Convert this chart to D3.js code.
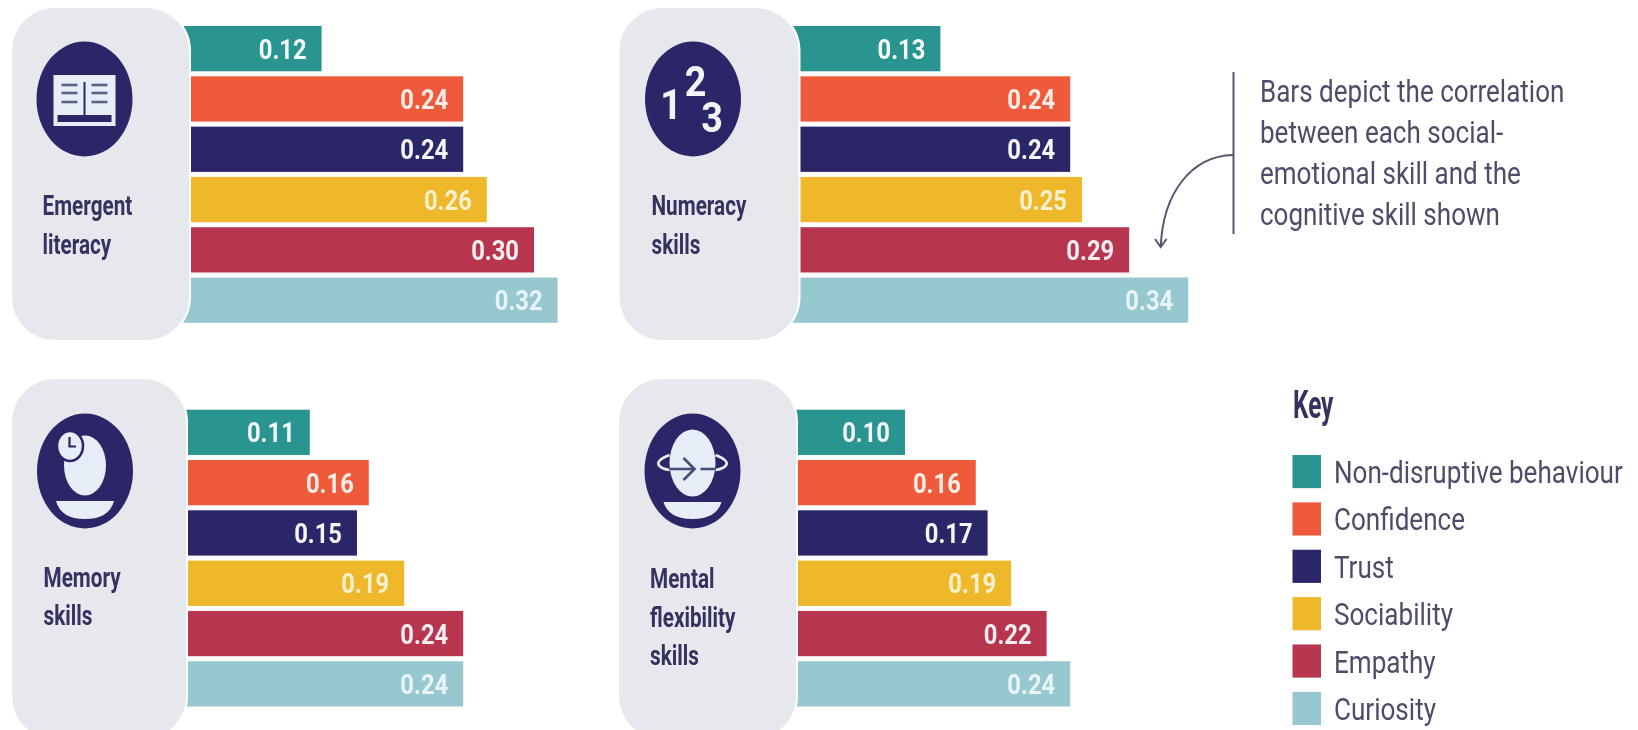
<!DOCTYPE html>
<html lang="en">
<head>
    <meta charset="UTF-8">
    <title>Social-emotional and cognitive skill correlations</title>
    <script src="https://d3js.org/d3.v7.min.js"></script>
    <style>
        html, body { margin: 0; padding: 0; background: #fff; }
        svg { display: block; font-family: Roboto, sans-serif; }
        .value { font-weight: 700; font-size: 28px; text-anchor: end; }
        .card-label { font-weight: 700; font-size: 28px; fill: #34325f; }
        .note { font-size: 31px; fill: #4d4d6b; }
        .key-label { font-size: 30.5px; fill: #4d4d6b; }
        .key-title { font-weight: 700; font-size: 38px; fill: #34325f; }
    </style>
</head>
<body>
    <svg id="chart"></svg>

    <script>
        // Chart values
        const traits = ["Non-disruptive behaviour", "Confidence", "Trust", "Sociability", "Empathy", "Curiosity"];
        const emergentLiteracy = [0.12, 0.24, 0.24, 0.26, 0.30, 0.32];
        const numeracySkills = [0.13, 0.24, 0.24, 0.25, 0.29, 0.34];
        const memorySkills = [0.11, 0.16, 0.15, 0.19, 0.24, 0.24];
        const mentalFlexibility = [0.10, 0.16, 0.17, 0.19, 0.22, 0.24];
        const noteLines = ["Bars depict the correlation", "between each social-", "emotional skill and the", "cognitive skill shown"];

        const palette = ["#2a9490", "#ef5a3a", "#2b2768", "#efb82c", "#b83650", "#97c8cf"];
        const labelFill = ["#f4fbfa", "#fdeee8", "#f6f6fb", "#fbf1cf", "#fbeef0", "#e8f4f5"];

        // Layout of the four panels
        const panels = [
            { name: ["Emergent", "literacy"], values: emergentLiteracy, icon: "book", x0: 180, top: 26, cardX: 11, cardR: 190, cardY: 7, cardB: 341, cx: 84.5, cy: 99, labelX: 42.5, labelY: [215, 254], sx: 0.74 },
            { name: ["Numeracy", "skills"], values: numeracySkills, icon: "numbers", x0: 787, top: 26, cardX: 618.5, cardR: 799.5, cardY: 7, cardB: 341, cx: 693, cy: 99, labelX: 651.5, labelY: [215, 254], sx: 0.74 },
            { name: ["Memory", "skills"], values: memorySkills, icon: "memory", x0: 180, top: 409.7, cardX: 11, cardR: 187, cardY: 378, cardB: 740, cx: 85, cy: 471, labelX: 43.5, labelY: [587, 625], sx: 0.74 },
            { name: ["Mental", "flexibility", "skills"], values: mentalFlexibility, icon: "flex", x0: 787, top: 409.7, cardX: 618, cardR: 797, cardY: 378, cardB: 740, cx: 692.5, cy: 471, labelX: 650, labelY: [588, 627, 665], sx: 0.74 }
        ];

        const svg = d3.select("#chart").attr("width", 1638).attr("height", 730);

        // The source picture is soft, a light blur keeps the edges comparable
        svg.append("defs").append("filter").attr("id", "soft")
            .append("feGaussianBlur").attr("stdDeviation", 0.65);
        const root = svg.append("g").attr("filter", "url(#soft)");

        const xScale = d3.scaleLinear().domain([0, 1]).range([0, 1180]);
        const color = d3.scaleOrdinal().domain(traits).range(palette);
        const textColor = d3.scaleOrdinal().domain(traits).range(labelFill);

        const navy = "#2b2768";
        const pale = "#e6edf6";

        // Condensed text: no condensed face is installed, so squeeze horizontally
        function squeezed(sel, x, y, sx) {
            return sel.attr("transform", `translate(${x},${y}) scale(${sx},1)`);
        }

        panels.forEach(p => {
            const yScale = d3.scaleBand().domain(traits).range([p.top, p.top + 296.8]).paddingInner(0.1);
            const g = root.append("g");

            // Bars start behind the card
            g.selectAll("rect.bar").data(p.values).enter().append("rect")
                .attr("class", "bar")
                .attr("x", p.x0)
                .attr("y", (d, i) => yScale(traits[i]))
                .attr("width", d => xScale(d))
                .attr("height", yScale.bandwidth())
                .attr("fill", (d, i) => color(traits[i]));

            g.selectAll("text.value").data(p.values).enter().append("text")
                .attr("class", "value")
                .attr("fill", (d, i) => textColor(traits[i]))
                .attr("transform", (d, i) => `translate(${p.x0 + xScale(d) - 15},${yScale(traits[i]) + yScale.bandwidth() / 2 + 10}) scale(0.85,1)`)
                .text(d => d3.format(".2f")(d));

            g.append("rect")
                .attr("x", p.cardX).attr("y", p.cardY)
                .attr("width", p.cardR - p.cardX).attr("height", p.cardB - p.cardY)
                .attr("rx", 44).attr("ry", 44)
                .attr("fill", "#e6e8ee")
                .attr("stroke", "#fff").attr("stroke-width", 2);

            const ic = g.append("g").attr("transform", `translate(${p.cx},${p.cy})`);
            ic.append("ellipse").attr("rx", 48).attr("ry", 57.5).attr("fill", navy);
            drawIcon(ic, p.icon);

            p.name.forEach((line, i) => {
                squeezed(g.append("text").attr("class", "card-label"), p.labelX, p.labelY[i], p.sx).text(line);
            });
        });

        function drawIcon(ic, kind) {
            if (kind === "book") {
                ic.append("rect").attr("x", -31).attr("y", -24).attr("width", 62).attr("height", 51).attr("fill", pale);
                ic.append("rect").attr("x", -27).attr("y", 16).attr("width", 54).attr("height", 7).attr("fill", navy);
                ic.append("line").attr("x1", 0).attr("x2", 0).attr("y1", -17).attr("y2", 16).attr("stroke", navy).attr("stroke-width", 2);
                [-14, -6, 3].forEach(y => {
                    [[-23, -7], [7, 23]].forEach(s => {
                        ic.append("line").attr("x1", s[0]).attr("x2", s[1]).attr("y1", y).attr("y2", y)
                            .attr("stroke", "#5f6088").attr("stroke-width", 2.6);
                    });
                });
            } else if (kind === "numbers") {
                [["1", -22, 20], ["2", 2.5, -3], ["3", 19, 33]].forEach(n => {
                    ic.append("text")
                        .attr("transform", `translate(${n[1]},${n[2]}) scale(0.9,1)`)
                        .attr("text-anchor", "middle")
                        .attr("font-weight", 700).attr("font-size", 42)
                        .attr("fill", "#f3f4fa").text(n[0]);
                });
            } else if (kind === "memory") {
                ic.append("ellipse").attr("cy", -5.5).attr("rx", 21).attr("ry", 30).attr("fill", pale);
                ic.append("path").attr("d", "M-29,30 H29 Q24,48 0,48 Q-24,48 -29,30 Z").attr("fill", pale);
                ic.append("ellipse").attr("cx", -15).attr("cy", -25).attr("rx", 13).attr("ry", 15)
                    .attr("fill", pale).attr("stroke", navy).attr("stroke-width", 2.5);
                ic.append("path").attr("d", "M-15.5,-34 V-24.5 H-9").attr("fill", "none").attr("stroke", navy).attr("stroke-width", 2.2);
            } else {
                ic.append("ellipse").attr("cy", -8).attr("rx", 23).attr("ry", 33.5).attr("fill", pale);
                ic.append("path").attr("d", "M-29,31 H29 Q24,48 0,48 Q-24,48 -29,31 Z").attr("fill", pale);
                ic.append("path").attr("d", "M-23,-16 Q-38,-10 -33,-5 Q-30,-2 -23,-1 M23,-16 Q38,-10 33,-5 Q30,-2 23,-1")
                    .attr("fill", "none").attr("stroke", pale).attr("stroke-width", 2.5);
                ic.append("path").attr("d", "M-23,-2 H2 M8,-2 H23 M-9,-13 L2,-2 L-9,9")
                    .attr("fill", "none").attr("stroke", "#4a4b78").attr("stroke-width", 2.6);
            }
        }

        // Annotation
        root.append("line").attr("x1", 1233.5).attr("x2", 1233.5).attr("y1", 72).attr("y2", 234)
            .attr("stroke", "#55566f").attr("stroke-width", 2);
        root.append("path").attr("d", "M1233,155 C1192,156 1163,192 1160.7,247 M1155,239 L1160.7,247 L1166.5,239")
            .attr("fill", "none").attr("stroke", "#55566f").attr("stroke-width", 2);
        noteLines.forEach((line, i) => {
            squeezed(root.append("text").attr("class", "note"), 1260, 102 + i * 41, 0.84).text(line);
        });

        // Key
        squeezed(root.append("text").attr("class", "key-title"), 1293, 418, 0.64).text("Key");
        const keyScale = d3.scaleBand().domain(traits).range([455, 725]).paddingInner(0.3);
        root.selectAll("rect.swatch").data(traits).enter().append("rect")
            .attr("class", "swatch")
            .attr("x", 1292.5).attr("y", d => keyScale(d))
            .attr("width", 28.5).attr("height", keyScale.bandwidth())
            .attr("fill", d => color(d));
        root.selectAll("text.key-label").data(traits).enter().append("text")
            .attr("class", "key-label")
            .attr("transform", d => `translate(1334,${keyScale(d) + keyScale.bandwidth() / 2 + 11.5}) scale(0.855,1)`)
            .text(d => d);
    </script>
</body>
</html>
